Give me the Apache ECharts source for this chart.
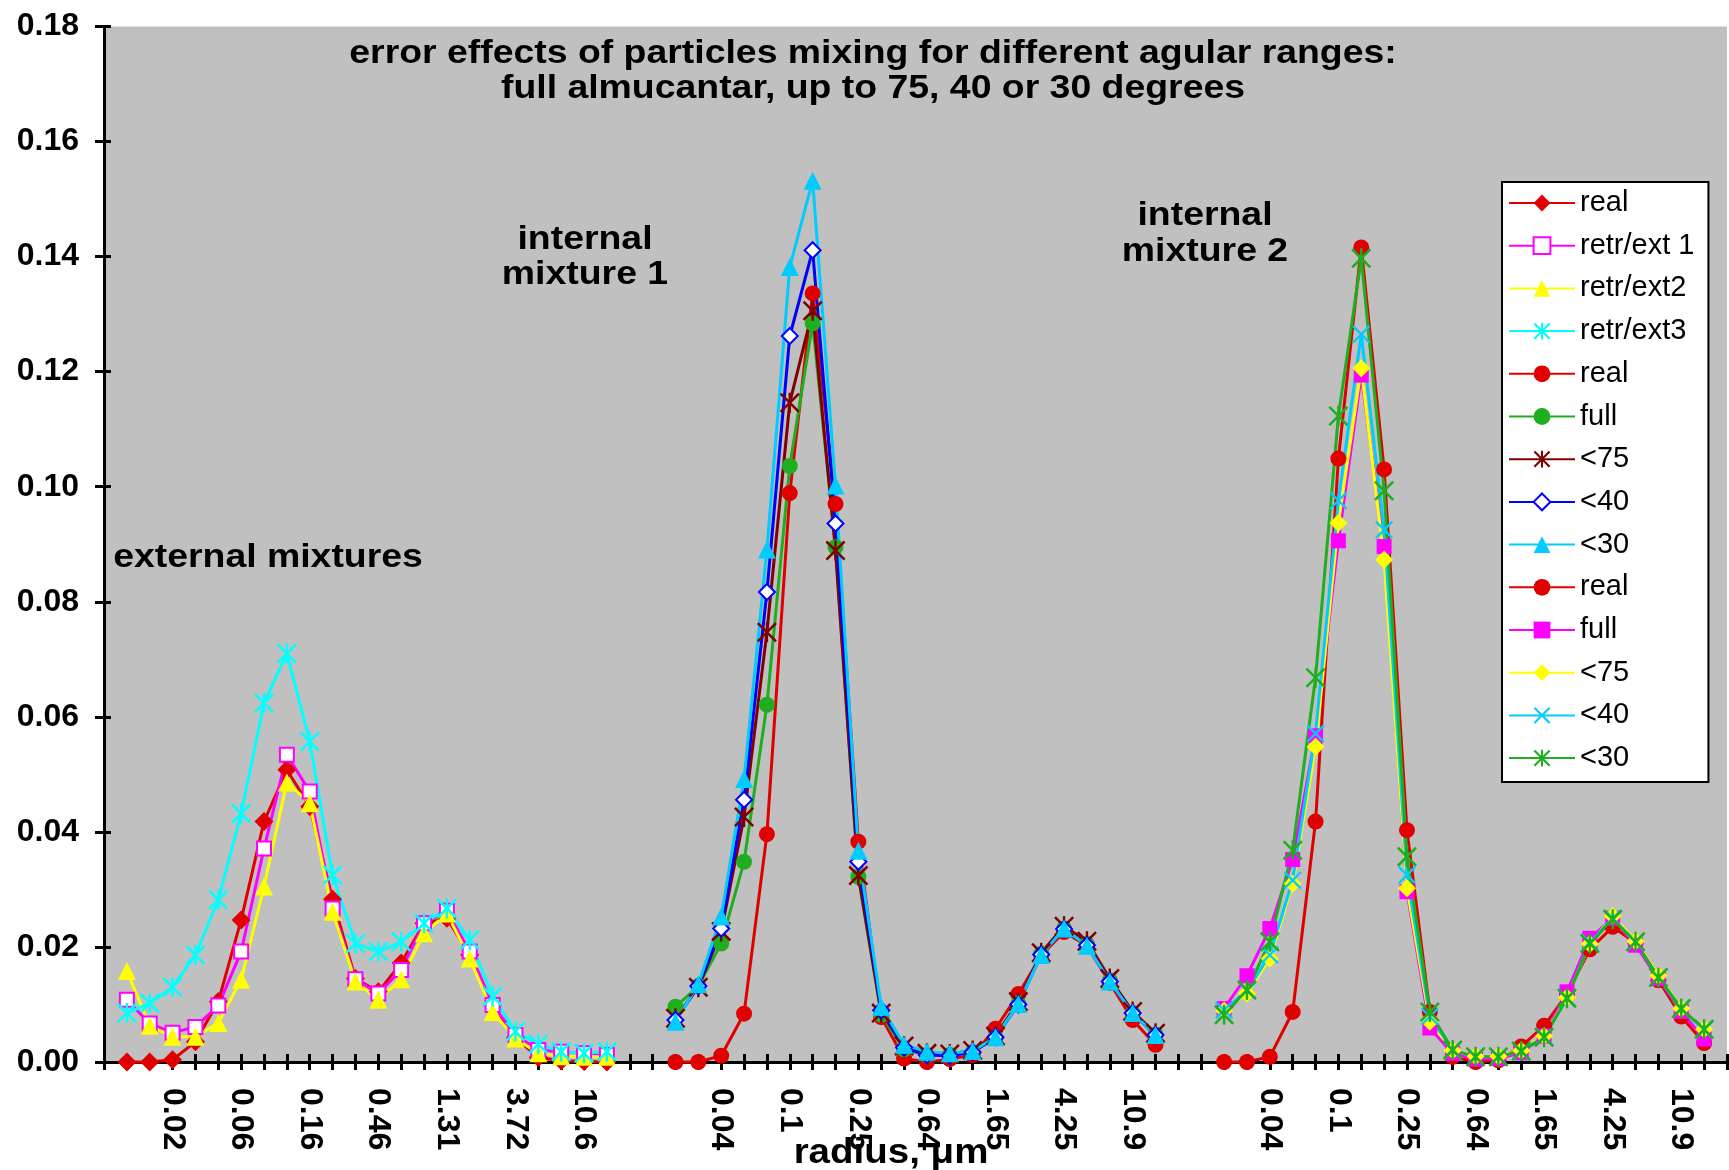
<!DOCTYPE html>
<html>
<head>
<meta charset="utf-8">
<script src="https://cdn.jsdelivr.net/npm/echarts@6/dist/echarts.min.js"></script>
<style>
  html, body { margin: 0; padding: 0; background: #fff; }
  #chart { width: 1729px; height: 1170px; }
</style>
</head>
<body>
<div id="chart"></div>
<script>
// Radius tick labels of each block (every third size bin is labelled)
const extTicks = ['', '', '0.02', '', '', '0.06', '', '', '0.16', '', '', '0.46', '', '', '1.31', '', '', '3.72', '', '', '10.6', ''];
const intTicks = ['', '', '0.04', '', '', '0.1', '', '', '0.25', '', '', '0.64', '', '', '1.65', '', '', '4.25', '', '', '10.9', ''];

// Full category axis: blank slot, external block, 2 blanks, internal 1, 2 blanks, internal 2, blank slot
const tickLabels = [''].concat(extTicks, ['', ''], intTicks, ['', ''], intTicks, ['']);
const blockStart = { ext: 1, int1: 25, int2: 49 };

// External mixtures
const extReal  = [0, 0, 0.0004, 0.0035, 0.0105, 0.0247, 0.0418, 0.0508, 0.0444, 0.0283, 0.0145, 0.0122, 0.0172, 0.0241, 0.0250, 0.0186, 0.0098, 0.0042, 0.0008, 0.0002, 0.0001, 0];
const extRetr1 = [0.0108, 0.0067, 0.0051, 0.0061, 0.0098, 0.0192, 0.0371, 0.0534, 0.0470, 0.0267, 0.0144, 0.0119, 0.0160, 0.0241, 0.0263, 0.0192, 0.0099, 0.0047, 0.0021, 0.0018, 0.0015, 0.0012];
const extRetr2 = [0.0158, 0.0063, 0.0044, 0.0044, 0.0068, 0.0143, 0.0305, 0.0486, 0.0450, 0.0261, 0.0140, 0.0108, 0.0144, 0.0224, 0.0258, 0.0180, 0.0087, 0.0041, 0.0015, 0.0010, 0.0009, 0.0009];
const extRetr3 = [0.0085, 0.0102, 0.0130, 0.0186, 0.0282, 0.0432, 0.0624, 0.0710, 0.0557, 0.0325, 0.0206, 0.0192, 0.0209, 0.0241, 0.0267, 0.0212, 0.0114, 0.0053, 0.0031, 0.0018, 0.0015, 0.0018];

// Internal mixture 1
const int1Real = [0, 0, 0.0011, 0.0084, 0.0396, 0.0989, 0.1336, 0.0970, 0.0383, 0.0078, 0.0006, 0, 0.0005, 0.0012, 0.0058, 0.0118, 0.0185, 0.0226, 0.0202, 0.0138, 0.0073, 0.0030];
const int1Full = [0.0096, 0.0132, 0.0206, 0.0348, 0.0621, 0.1036, 0.1284, 0.0895, 0.0322, 0.0082, 0.0022, 0.0012, 0.0012, 0.0017, 0.0042, 0.0102, 0.0188, 0.0232, 0.0205, 0.0142, 0.0085, 0.0048];
const int1Lt75 = [0.0076, 0.0130, 0.0227, 0.0426, 0.0747, 0.1146, 0.1306, 0.0889, 0.0324, 0.0085, 0.0028, 0.0015, 0.0014, 0.0020, 0.0045, 0.0105, 0.0190, 0.0236, 0.0210, 0.0145, 0.0088, 0.0050];
const int1Lt40 = [0.0073, 0.0132, 0.0232, 0.0456, 0.0817, 0.1262, 0.1411, 0.0936, 0.0348, 0.0090, 0.0025, 0.0012, 0.0011, 0.0017, 0.0043, 0.0100, 0.0187, 0.0231, 0.0203, 0.0140, 0.0085, 0.0047];
const int1Lt30 = [0.0070, 0.0135, 0.0253, 0.0492, 0.0891, 0.1382, 0.1532, 0.1002, 0.0367, 0.0096, 0.0030, 0.0018, 0.0015, 0.0019, 0.0043, 0.0101, 0.0186, 0.0232, 0.0202, 0.0140, 0.0085, 0.0047];

// Internal mixture 2
const int2Real = [0, 0, 0.0009, 0.0087, 0.0418, 0.1049, 0.1416, 0.1030, 0.0403, 0.0087, 0.0009, 0, 0.0003, 0.0027, 0.0063, 0.0118, 0.0196, 0.0235, 0.0207, 0.0142, 0.0079, 0.0033];
const int2Full = [0.0093, 0.0150, 0.0232, 0.0352, 0.0567, 0.0906, 0.1194, 0.0896, 0.0296, 0.0059, 0.0015, 0.0005, 0.0006, 0.0016, 0.0045, 0.0122, 0.0215, 0.0250, 0.0203, 0.0145, 0.0088, 0.0040];
const int2Lt75 = [0.0089, 0.0119, 0.0180, 0.0310, 0.0548, 0.0937, 0.1206, 0.0873, 0.0302, 0.0070, 0.0020, 0.0010, 0.0010, 0.0020, 0.0045, 0.0112, 0.0205, 0.0254, 0.0210, 0.0150, 0.0093, 0.0057];
const int2Lt40 = [0.0090, 0.0124, 0.0186, 0.0316, 0.0571, 0.0976, 0.1265, 0.0925, 0.0325, 0.0079, 0.0020, 0.0009, 0.0009, 0.0018, 0.0044, 0.0110, 0.0208, 0.0250, 0.0208, 0.0147, 0.0092, 0.0056];
const int2Lt30 = [0.0082, 0.0125, 0.0209, 0.0368, 0.0668, 0.1123, 0.1397, 0.0993, 0.0357, 0.0087, 0.0021, 0.0009, 0.0009, 0.0019, 0.0043, 0.0111, 0.0206, 0.0248, 0.0209, 0.0147, 0.0093, 0.0057];

const FONT = '"Liberation Sans", Arial, Helvetica, sans-serif';

// Marker shapes drawn as thin filled bars
const ASTERISK = 'path://M8.8,0h2.4v20h-2.4z M0,1.8L1.8,0L20,18.2L18.2,20z M18.2,0L20,1.8L1.8,20L0,18.2z';
const CROSS = 'path://M0,1.8L1.8,0L20,18.2L18.2,20z M18.2,0L20,1.8L1.8,20L0,18.2z';

const RED = '#e00000', MAGENTA = '#ff00ff', YELLOW = '#ffff00', CYAN = '#00ffff',
      GREEN = '#1fae1f', DARKRED = '#800000', BLUE = '#0000ff', SKY = '#00ccff';

function place(values, start) {
  const arr = new Array(tickLabels.length).fill(null);
  values.forEach((v, i) => { arr[start + i] = v; });
  return arr;
}

// Legend names repeat across blocks; a zero-width suffix keeps each entry distinct
let dup = {};
function uniqueName(n) {
  dup[n] = (dup[n] || 0) + 1;
  return n + '\u200b'.repeat(dup[n] - 1);
}

function lineSeries(name, values, start, color, symbol, size, empty) {
  return {
    type: 'line',
    name: uniqueName(name),
    data: place(values, start),
    xAxisIndex: 0,
    yAxisIndex: 0,
    symbol: symbol,
    symbolSize: size,
    showAllSymbol: true,
    connectNulls: false,
    clip: false,
    silent: true,
    animation: false,
    lineStyle: { color: color, width: 3 },
    itemStyle: empty
      ? { color: color, borderColor: color, borderWidth: 2.5 }
      : { color: color, borderWidth: 0 },
    emphasis: { disabled: true }
  };
}

const series = [
  lineSeries('real', extReal, blockStart.ext, RED, 'diamond', 19),
  lineSeries('retr/ext 1', extRetr1, blockStart.ext, MAGENTA, 'emptyRect', 14, true),
  lineSeries('retr/ext2', extRetr2, blockStart.ext, YELLOW, 'triangle', 18),
  lineSeries('retr/ext3', extRetr3, blockStart.ext, CYAN, ASTERISK, 20),
  lineSeries('real', int1Real, blockStart.int1, RED, 'circle', 16),
  lineSeries('full', int1Full, blockStart.int1, GREEN, 'circle', 16),
  lineSeries('<75', int1Lt75, blockStart.int1, DARKRED, ASTERISK, 20),
  lineSeries('<40', int1Lt40, blockStart.int1, BLUE, 'emptyDiamond', 16, true),
  lineSeries('<30', int1Lt30, blockStart.int1, SKY, 'triangle', 18),
  lineSeries('real', int2Real, blockStart.int2, RED, 'circle', 16),
  lineSeries('full', int2Full, blockStart.int2, MAGENTA, 'rect', 15),
  lineSeries('<75', int2Lt75, blockStart.int2, YELLOW, 'diamond', 18),
  lineSeries('<40', int2Lt40, blockStart.int2, SKY, CROSS, 18),
  lineSeries('<30', int2Lt30, blockStart.int2, GREEN, ASTERISK, 20)
];

const categories = tickLabels.map((t, i) => 'r' + i);

function boldText(text, x, y, size) {
  return {
    type: 'text', x: x, y: y, scaleX: 1.1, silent: true,
    style: {
      text: text, font: 'bold ' + size + 'px ' + FONT, fill: '#000',
      align: 'center', verticalAlign: 'middle',
      textAlign: 'center', textVerticalAlign: 'middle'
    }
  };
}

const axisLineStyle = { color: '#000', width: 3 };

const option = {
  animation: false,
  backgroundColor: '#ffffff',
  grid: {
    left: 104, right: 2, top: 26.5, bottom: 108,
    show: true, backgroundColor: '#c0c0c0', borderWidth: 0,
    containLabel: false, outerBoundsMode: 'none'
  },
  xAxis: [
    {
      type: 'category', data: categories, boundaryGap: false,
      axisLine: { show: true, onZero: false, lineStyle: axisLineStyle },
      axisTick: { show: true, interval: 0, length: 8, lineStyle: axisLineStyle },
      axisLabel: {
        interval: 0, rotate: -90, margin: 26,
        formatter: (v, i) => tickLabels[i],
        fontFamily: FONT, fontWeight: 'bold', fontSize: 32, color: '#000'
      },
      splitLine: { show: false }
    },
    {
      type: 'category', data: categories, boundaryGap: false, position: 'bottom',
      axisLine: { show: false, onZero: false },
      axisTick: { show: true, inside: true, interval: 0, length: 8, lineStyle: axisLineStyle },
      axisLabel: { show: false },
      splitLine: { show: false }
    }
  ],
  yAxis: [
    {
      type: 'value', min: 0, max: 0.18, interval: 0.02,
      axisLine: { show: true, onZero: false, lineStyle: axisLineStyle },
      axisTick: { show: true, length: 9, lineStyle: axisLineStyle },
      axisLabel: {
        margin: 25, formatter: v => v.toFixed(2),
        fontFamily: FONT, fontWeight: 'bold', fontSize: 32, color: '#000'
      },
      splitLine: { show: false }
    },
    {
      type: 'value', min: 0, max: 0.18, interval: 0.02, position: 'left',
      axisLine: { show: false, onZero: false },
      axisTick: { show: true, inside: true, length: 7, lineStyle: axisLineStyle },
      axisLabel: { show: false },
      splitLine: { show: false }
    }
  ],
  legend: {
    orient: 'vertical', left: 1502, top: 182,
    padding: [6, 14, 9, 6],
    itemWidth: 66, itemHeight: 21, itemGap: 12.7,
    backgroundColor: '#ffffff', borderColor: '#000', borderWidth: 2, borderRadius: 0,
    selectedMode: false,
    formatter: n => n.replace(/\u200b/g, ''),
    textStyle: { fontFamily: FONT, fontSize: 29, lineHeight: 30, color: '#000' },
    data: series.map(s => s.name)
  },
  graphic: [
    boldText('error effects of particles mixing for different agular ranges:', 873, 54, 34),
    boldText('full almucantar, up to 75, 40 or 30 degrees', 873, 89, 34),
    boldText('external mixtures', 268, 558, 34),
    boldText('internal', 585, 240, 34),
    boldText('mixture 1', 585, 275, 34),
    boldText('internal', 1205, 216, 34),
    boldText('mixture 2', 1205, 252, 34),
    boldText('radius, \u03bcm', 891, 1153, 35)
  ],
  series: series
};

const chart = echarts.init(document.getElementById('chart'), null, { renderer: 'canvas' });
chart.setOption(option);
</script>
</body>
</html>
